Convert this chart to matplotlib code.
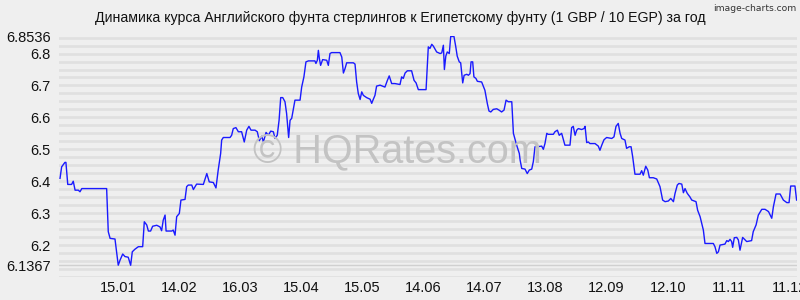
import matplotlib
matplotlib.use('Agg')
import matplotlib.pyplot as plt
import pandas as pd

# day offsets from 17.12.2014 and GBP/EGP (10 EGP) rate
days = [0.5, 1.3, 2.9, 3.4, 4.3, 6.2, 7.0, 7.9, 9.5, 10.3, 11.2, 23.4, 24.2, 25.1, 27.5, 29.1,
        30.0, 31.3, 32.4, 34.0, 35.2, 36.0, 37.3, 39.0, 41.1, 41.9, 43.1, 43.9, 45.0, 46.0,
        48.0, 49.6, 50.4, 51.2, 52.1, 52.6, 55.4, 56.1, 57.0, 57.8, 59.1, 59.9, 61.9, 62.7,
        63.5, 65.2, 66.0, 67.6, 70.9, 72.6, 73.8, 75.8, 77.1, 78.2, 79.4, 79.9, 80.7, 84.0,
        84.8, 85.6, 86.9, 88.1, 89.7, 91.0, 92.2, 93.3, 94.3, 96.3, 97.4, 98.4, 99.6, 100.4,
        101.7, 102.8, 104.0, 105.3, 106.1, 107.2, 108.1, 108.9, 109.9, 111.0, 111.8, 112.8,
        113.5, 114.3, 115.9, 118.4, 119.2, 120.3, 121.3, 122.5, 125.7, 126.2, 126.9, 127.4,
        127.9, 128.5, 129.5, 131.5, 132.3, 133.1, 133.9, 138.0, 138.9, 139.7, 140.5, 141.3,
        144.6, 145.4, 146.2, 147.0, 147.9, 148.7, 149.5, 151.1, 152.8, 153.6, 154.4, 155.2,
        156.0, 157.7, 160.1, 161.3, 162.2, 163.4, 165.0, 167.5, 168.3, 169.1, 170.0, 171.1,
        173.2, 174.4, 175.4, 176.5, 180.3, 181.4, 182.2, 183.1, 183.9, 185.5, 187.2, 188.0,
        188.8, 189.3, 190.0, 190.7, 191.7, 192.4, 194.0, 194.9, 195.6, 196.6, 197.3, 198.3,
        199.0, 200.3, 201.1, 201.9, 202.4, 203.2, 203.8, 204.8, 205.5, 207.6, 209.2, 210.4,
        211.2, 212.1, 213.3, 215.0, 216.1, 217.4, 218.6, 219.6, 220.7, 222.4, 223.2, 224.8,
        226.1, 226.5, 227.3, 228.9, 230.0, 231.0, 232.2, 233.0, 233.8, 234.9, 237.1, 237.9,
        238.7, 239.6, 240.3, 242.8, 243.6, 244.8, 245.7, 246.9, 248.5, 251.0, 251.8, 252.6,
        253.5, 254.3, 255.1, 256.7, 257.9, 258.4, 259.2, 260.0, 260.8, 263.3, 264.9, 265.7,
        266.6, 267.7, 269.0, 271.5, 272.6, 273.6, 274.7, 275.6, 276.4, 278.0, 278.8, 280.1,
        281.0, 281.8, 282.9, 285.4, 286.2, 287.0, 288.2, 289.2, 290.0, 291.9, 293.6, 295.2,
        296.5, 297.7, 299.3, 300.5, 301.8, 302.6, 303.7, 304.5, 305.9, 306.7, 307.5, 308.6,
        309.9, 310.8, 312.9, 313.7, 314.9, 316.5, 317.3, 321.4, 322.2, 323.1, 323.9, 324.7,
        327.1, 328.0, 328.8, 329.6, 330.4, 330.9, 331.7, 332.9, 333.7, 334.5, 335.8, 337.0,
        337.8, 340.2, 341.0, 342.4, 343.5, 345.2, 346.8, 348.5, 350.1, 350.9, 352.2, 354.2,
        355.8, 357.5, 358.6, 359.4, 361.5, 362.3]
rates = [6.409, 6.445, 6.459, 6.459, 6.390, 6.390, 6.400, 6.372, 6.372, 6.367, 6.377, 6.377,
         6.242, 6.221, 6.219, 6.137, 6.153, 6.172, 6.164, 6.162, 6.1367, 6.179, 6.187, 6.195,
         6.195, 6.273, 6.263, 6.244, 6.244, 6.259, 6.262, 6.257, 6.245, 6.278, 6.294, 6.244,
         6.244, 6.247, 6.231, 6.289, 6.299, 6.341, 6.343, 6.383, 6.388, 6.388, 6.374, 6.391,
         6.390, 6.424, 6.398, 6.396, 6.379, 6.435, 6.487, 6.529, 6.537, 6.537, 6.544, 6.565,
         6.568, 6.555, 6.555, 6.523, 6.560, 6.572, 6.560, 6.560, 6.555, 6.527, 6.541, 6.523,
         6.553, 6.544, 6.557, 6.555, 6.534, 6.544, 6.591, 6.662, 6.662, 6.649, 6.612, 6.537,
         6.591, 6.597, 6.654, 6.654, 6.695, 6.727, 6.774, 6.777, 6.777, 6.769, 6.779, 6.810,
         6.784, 6.763, 6.781, 6.779, 6.763, 6.800, 6.803, 6.803, 6.789, 6.739, 6.753, 6.771,
         6.771, 6.767, 6.711, 6.675, 6.656, 6.680, 6.669, 6.662, 6.657, 6.644, 6.657, 6.669,
         6.698, 6.701, 6.695, 6.716, 6.730, 6.706, 6.706, 6.703, 6.727, 6.722, 6.739, 6.746,
         6.746, 6.716, 6.708, 6.687, 6.687, 6.821, 6.816, 6.829, 6.823, 6.805, 6.800, 6.802,
         6.826, 6.750, 6.792, 6.805, 6.800, 6.8536, 6.8536, 6.821, 6.792, 6.774, 6.771, 6.708,
         6.732, 6.735, 6.732, 6.737, 6.774, 6.774, 6.727, 6.722, 6.713, 6.711, 6.685, 6.643,
         6.620, 6.617, 6.625, 6.627, 6.623, 6.617, 6.623, 6.654, 6.649, 6.649, 6.550, 6.513,
         6.487, 6.466, 6.440, 6.438, 6.424, 6.435, 6.438, 6.462, 6.508, 6.508, 6.510, 6.500,
         6.518, 6.550, 6.547, 6.547, 6.555, 6.560, 6.544, 6.550, 6.513, 6.513, 6.568, 6.572,
         6.544, 6.560, 6.565, 6.562, 6.565, 6.572, 6.521, 6.523, 6.518, 6.518, 6.510, 6.497,
         6.513, 6.530, 6.537, 6.534, 6.539, 6.572, 6.581, 6.550, 6.534, 6.529, 6.503, 6.508,
         6.508, 6.476, 6.422, 6.422, 6.433, 6.419, 6.447, 6.435, 6.411, 6.411, 6.407, 6.383,
         6.341, 6.336, 6.338, 6.346, 6.336, 6.362, 6.388, 6.393, 6.391, 6.364, 6.377, 6.362,
         6.351, 6.341, 6.336, 6.309, 6.289, 6.247, 6.205, 6.205, 6.195, 6.174, 6.179, 6.200,
         6.203, 6.214, 6.211, 6.218, 6.211, 6.193, 6.223, 6.224, 6.216, 6.184, 6.224, 6.216,
         6.211, 6.214, 6.242, 6.263, 6.294, 6.312, 6.312, 6.305, 6.284, 6.320, 6.360, 6.360,
         6.341, 6.333, 6.333, 6.385, 6.385, 6.341]

start = pd.Timestamp('2014-12-17')
tick_dates = ['2015-01-15', '2015-02-14', '2015-03-16', '2015-04-15', '2015-05-15', '2015-06-14',
              '2015-07-14', '2015-08-13', '2015-09-12', '2015-10-12', '2015-11-11', '2015-12-11']
y_ticks = [6.1367, 6.2, 6.3, 6.4, 6.5, 6.6, 6.7, 6.8, 6.8536]
y_labels = ['6.1367', '6.2', '6.3', '6.4', '6.5', '6.6', '6.7', '6.8', '6.8536']

plt.rcParams['font.family'] = ['Liberation Sans', 'DejaVu Sans']
plt.rcParams['lines.scale_dashes'] = False
bg = '#efefef'

fig = plt.figure(figsize=(8, 3), dpi=100, facecolor=bg)
ax = fig.add_axes([0.07375, 0.0767, 0.9225, 0.8033], facecolor=bg)

ticks_x = [(pd.Timestamp(t) - start).days for t in tick_dates]
tick_lbl = [pd.Timestamp(t).strftime('%d.%m') for t in tick_dates]

# dotted background grid
for k in range(31):
    ax.axhline(6.10 + k * 0.025, color='#d3d3d3', lw=2.0, dashes=(0.72, 0.72), zorder=0)
ax.axhline(6.1367, color='#d0d0d0', lw=1.0, zorder=0)

fig.text(0.497, 0.493, '© HQRates.com', ha='center', va='center',
         fontsize=28.5, color='#c3c3c3', zorder=1)

ax.plot(days, rates, color='#1a1aff', lw=1.0, zorder=3)

ax.set_xlim(0, 362.5)
ax.set_ylim(6.10, 6.855)
ax.set_xticks(ticks_x)
ax.set_xticklabels(tick_lbl)
ax.set_yticks(y_ticks)
ax.set_yticklabels(y_labels)
ax.tick_params(length=0, labelsize=10.5, colors='#111111')
ax.tick_params(axis='y', pad=6)
ax.tick_params(axis='x', pad=3)
for s in ax.spines.values():
    s.set_visible(False)

fig.text(0.5, 0.94, 'Динамика курса Английского фунта стерлингов к Египетскому фунту (1 GBP / 10 EGP) за год',
         ha='center', va='center', fontsize=10.2, color='#111111')
fig.text(0.995, 0.972, 'image-charts.com', ha='right', va='center', fontsize=6.6,
         color='#333333', family=['DejaVu Sans Condensed', 'DejaVu Sans'])

fig.savefig('out.png', dpi=100, facecolor=bg)
